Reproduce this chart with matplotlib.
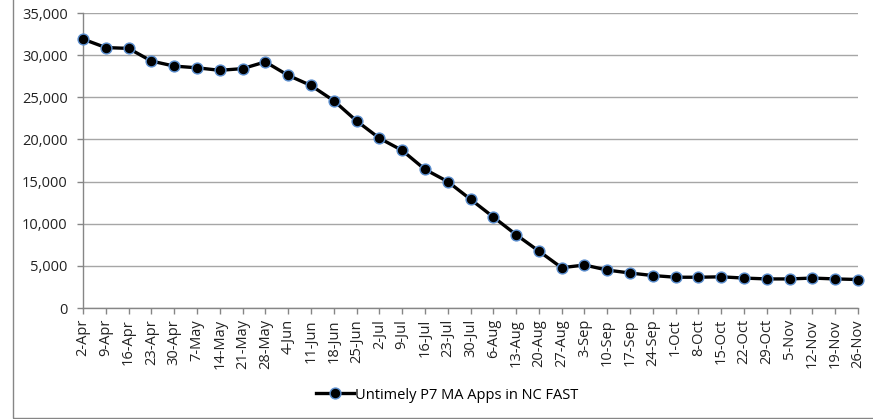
import matplotlib
matplotlib.use("Agg")
import matplotlib.pyplot as plt
from matplotlib.patches import Rectangle

dates = ["2-Apr", "9-Apr", "16-Apr", "23-Apr", "30-Apr", "7-May", "14-May", "21-May", "28-May",
         "4-Jun", "11-Jun", "18-Jun", "25-Jun", "2-Jul", "9-Jul", "16-Jul", "23-Jul", "30-Jul",
         "6-Aug", "13-Aug", "20-Aug", "27-Aug", "3-Sep", "10-Sep", "17-Sep", "24-Sep", "1-Oct",
         "8-Oct", "15-Oct", "22-Oct", "29-Oct", "5-Nov", "12-Nov", "19-Nov", "26-Nov"]
values = [31900, 30900, 30800, 29300, 28700, 28500, 28200, 28400, 29200,
          27600, 26400, 24600, 22200, 20150, 18700, 16450, 15000, 12900,
          10800, 8700, 6750, 4780, 5100, 4500, 4150, 3850, 3650,
          3650, 3700, 3550, 3450, 3450, 3550, 3450, 3380]
series_name = "Untimely P7 MA Apps in NC FAST"
yticks = [0, 5000, 10000, 15000, 20000, 25000, 30000, 35000]

plt.rcParams['font.family'] = ['Open Sans', 'DejaVu Sans']

W, H = 873, 419
fig = plt.figure(figsize=(W / 100, H / 100), dpi=100)
ax = fig.add_axes([83 / W, 1 - 308 / H, (858 - 83) / W, (308 - 13) / H])

x = list(range(len(dates)))
ax.plot(x, values, color='black', lw=2.4, marker='o', markersize=7.8,
        markerfacecolor='black', markeredgecolor='#5B8FD0', markeredgewidth=1.0,
        label=series_name, zorder=3, clip_on=False)

ax.set_xlim(0, len(dates) - 1)
ax.set_ylim(0, 35000)
ax.set_yticks(yticks)
ax.set_yticklabels([f"{v:,}" for v in yticks])
ax.set_xticks(x)
ax.set_xticklabels(dates, rotation=90)
ax.yaxis.grid(True, color='#A6A6A6', lw=1.0)
ax.set_axisbelow(True)
for s in ['top', 'right']:
    ax.spines[s].set_visible(False)
for s in ['left', 'bottom']:
    ax.spines[s].set_color('#868686')
    ax.spines[s].set_linewidth(1.0)
ax.tick_params(axis='both', colors='#868686', length=4, width=1.0, direction='out',
               labelcolor='#222222', labelsize=10.5)
ax.tick_params(axis='y', pad=7)
ax.tick_params(axis='x', pad=4)

# chart border
fig.patches.append(Rectangle((12.7 / W, 1.3 / H), 1.0, 1.0, transform=fig.transFigure,
                             fill=False, edgecolor='#868686', lw=1.0))

fig.legend(loc='center', bbox_to_anchor=(447 / W, 1 - 395 / H), frameon=False,
           fontsize=10.5, handlelength=2.6, handletextpad=0.1, prop={'size': 10.5})

fig.savefig("out.png", dpi=100)
